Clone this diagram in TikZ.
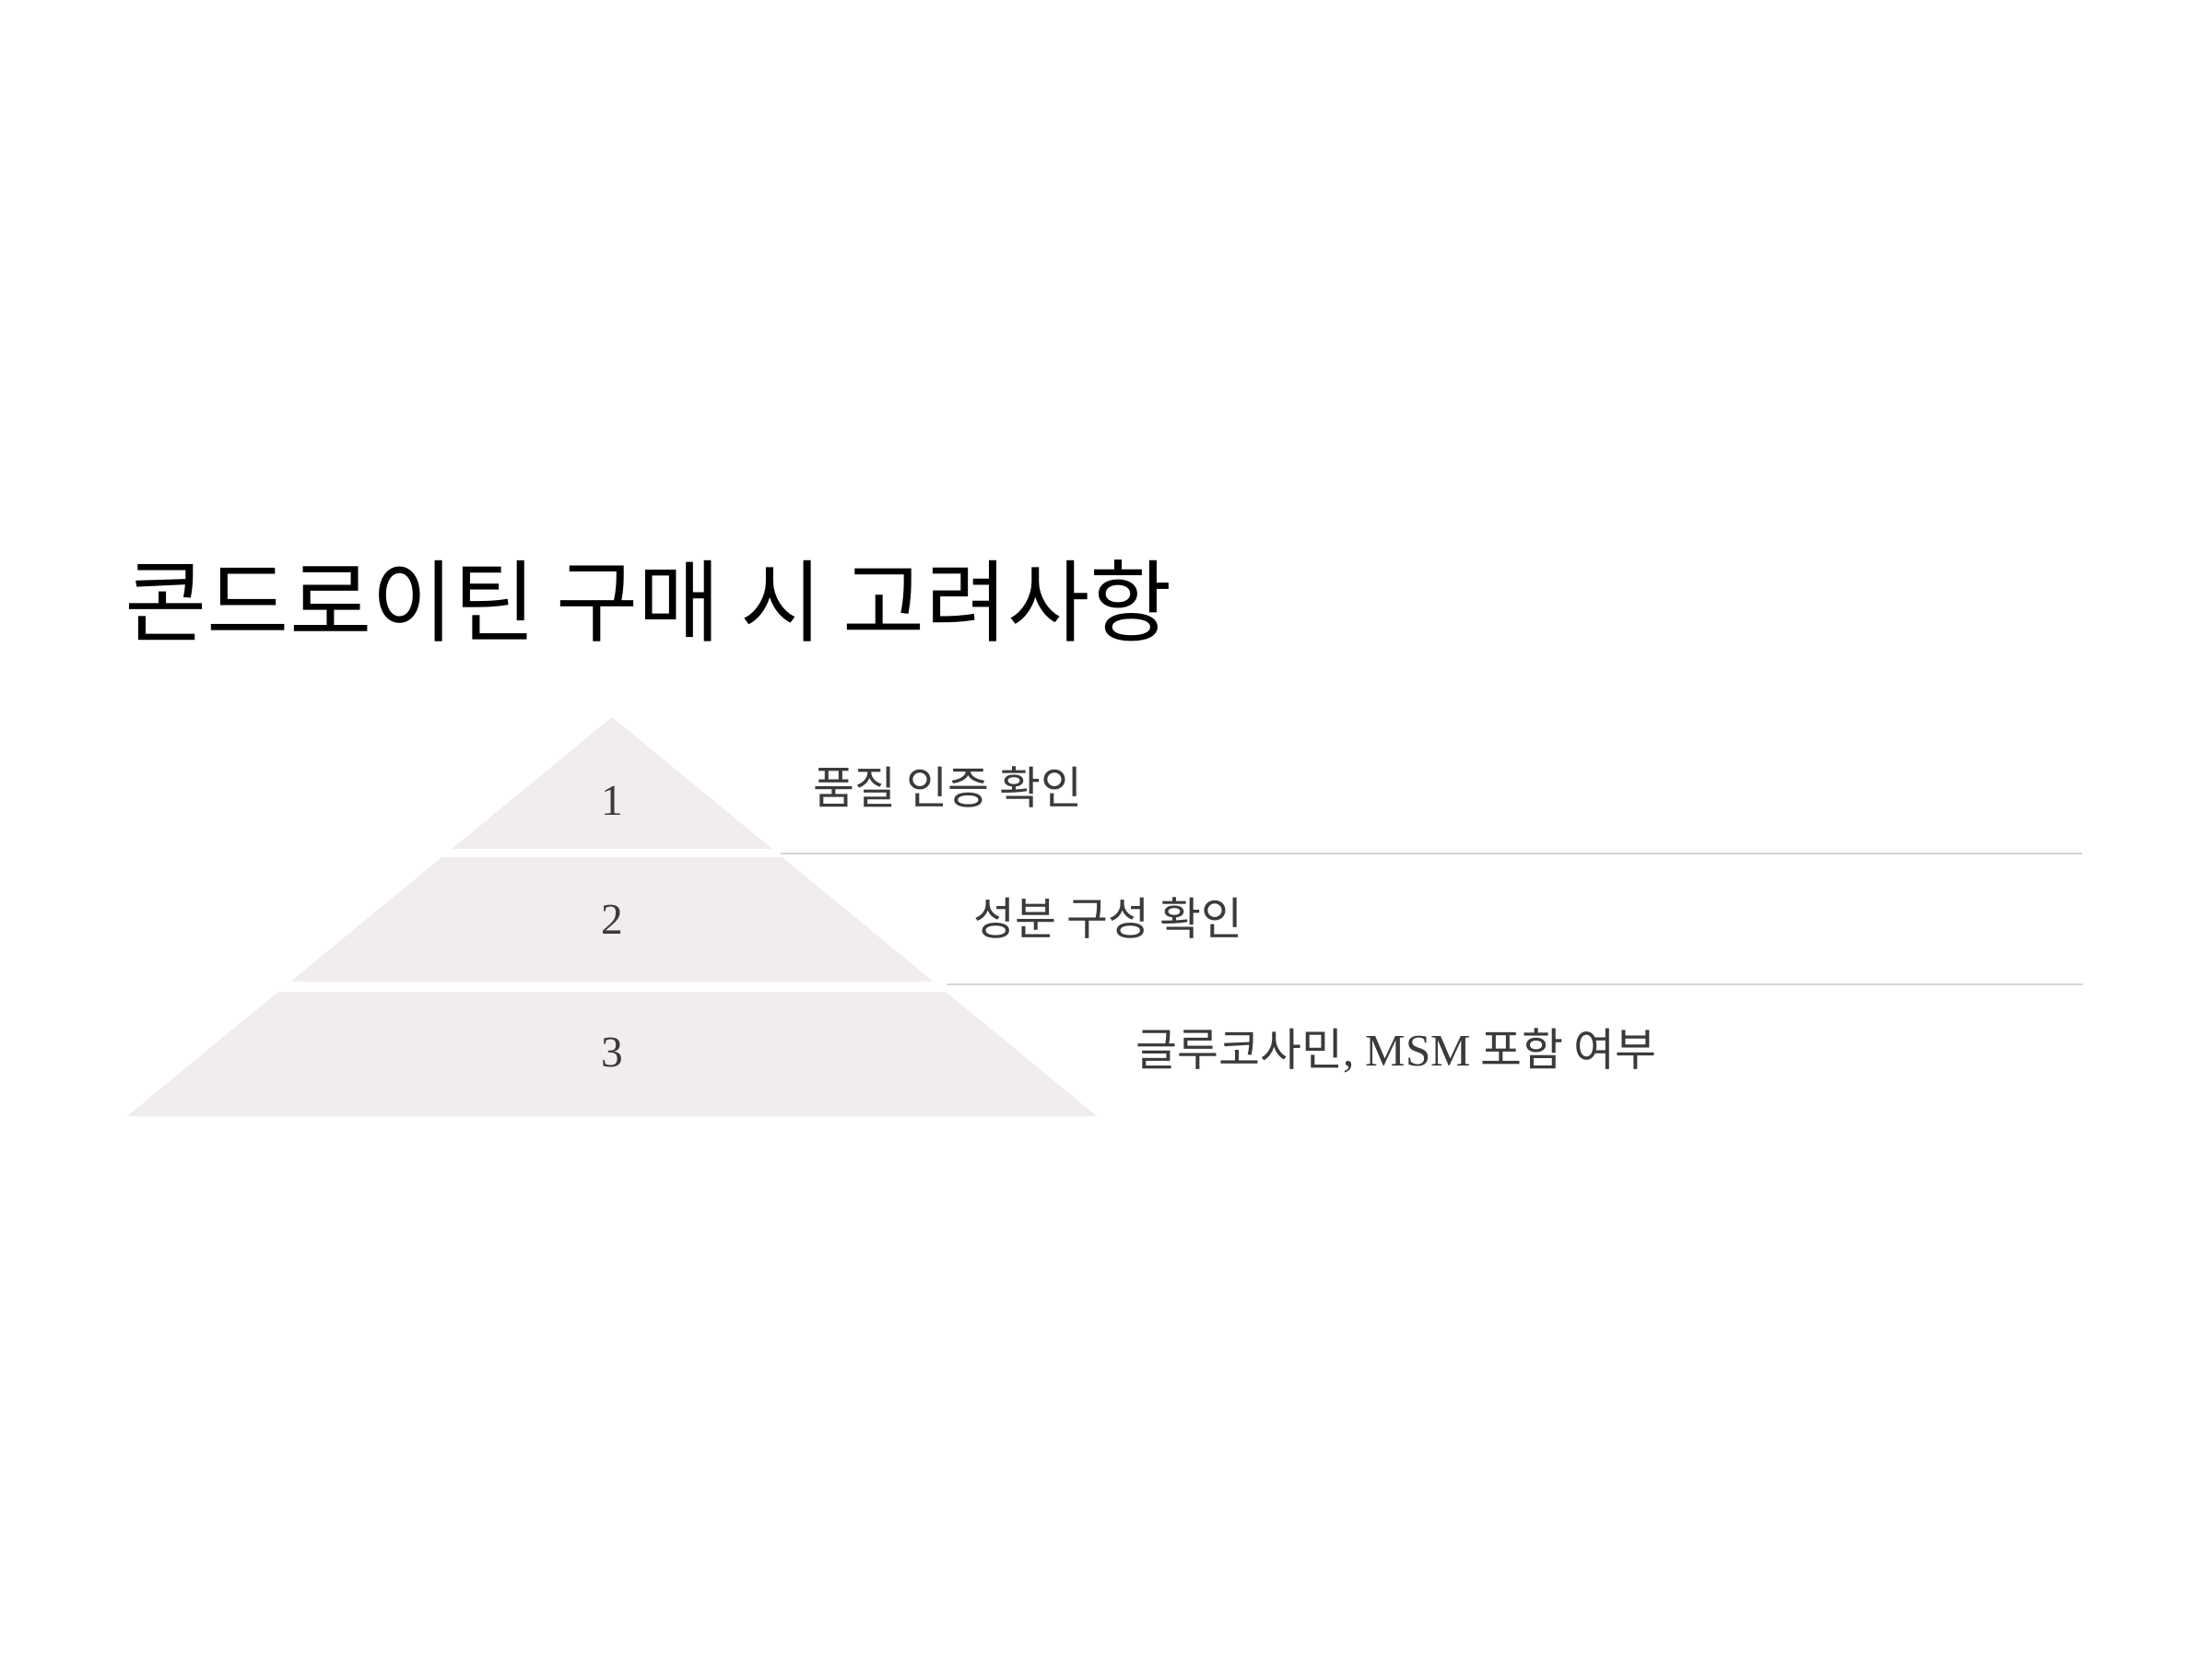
\documentclass[tikz,border=0pt]{standalone}
\usepackage{fontspec}
\setmainfont{Liberation Serif}
\newfontfamily\kr{Noto Sans CJK KR}
\definecolor{tierfill}{HTML}{F0EDEC}
\definecolor{rulegray}{HTML}{D8D5D5}
\definecolor{textgray}{HTML}{3A3A3A}
\begin{document}
\begin{tikzpicture}[
    num/.style={inner sep=0pt, text=textgray, font=\fontsize{13.5}{16}\selectfont},
    item/.style={anchor=west, inner sep=0pt, text=textgray, font=\fontsize{13.9}{16}\selectfont\kr},
    sep/.style={draw=rulegray, line width=0.6pt}
  ]
  \useasboundingbox (0,0) rectangle (24,18);

  \node [anchor=west, inner sep=0pt, font=\fontsize{27.6}{32}\selectfont\kr] (title) at (1.35,11.48) {콘드로이틴 구매 시 고려사항};

  % pyramid, cut into three tiers
  \coordinate (top) at (6.64,10.22);
  \coordinate (bl) at (1.38,5.89);
  \coordinate (br) at (11.90,5.89);
  \begin{scope}
    \clip (top) -- (bl) -- (br) -- cycle;
    \fill [tierfill] (0,8.79) rectangle (24,10.3);
    \fill [tierfill] (0,7.35) rectangle (24,8.70);
    \fill [tierfill] (0,5.80) rectangle (24,7.24);
  \end{scope}

  \node [num] (n1) at (6.64,9.31) {1};
  \node [num] (n2) at (6.64,8.02) {2};
  \node [num] (n3) at (6.64,6.58) {3};

  \node [item] (t1) at (8.82,9.46) {품질 인증 확인};
  \node [item] (t2) at (10.56,8.04) {성분 구성 확인};
  \node [item] (t3) at (12.32,6.60) {글루코사민{\rmfamily, MSM} 포함 여부};

  % separators
  \coordinate (s1a) at (8.47,8.74);
  \coordinate (s1b) at (22.59,8.74);
  \coordinate (s2a) at (10.27,7.32);
  \coordinate (s2b) at (22.60,7.32);
  \draw [sep] (s1a) -- (s1b);
  \draw [sep] (s2a) -- (s2b);
\end{tikzpicture}
\end{document}
